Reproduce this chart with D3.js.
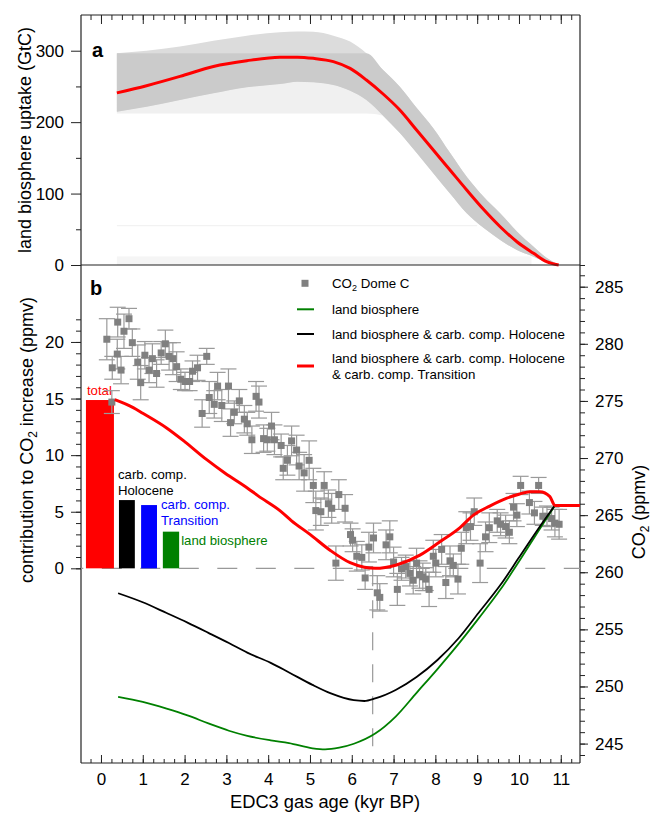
<!DOCTYPE html>
<html><head><meta charset="utf-8">
<script src="https://cdn.jsdelivr.net/npm/d3@7"></script>
<style>
body{margin:0;background:#fff}
svg{display:block}
text{font-family:"Liberation Sans",Arial,Helvetica,sans-serif;fill:#000}
</style>
</head><body>
<svg id="c" width="652" height="815"></svg>
<script>
// ---------- DATA ----------
// Panel a: land biosphere uptake (GtC)
const topAge   = [0.38, 1.09, 1.89, 2.69, 3.49, 4.28, 4.7, 5.08, 5.56, 5.96, 6.35, 6.75, 7.15, 7.55, 7.95, 8.35, 8.75, 9.15, 9.55, 9.95, 10.35, 10.66, 10.95];
const topMedian= [241, 251, 264, 278, 286, 290.8, 291, 289.3, 284.7, 275.2, 259, 239.4, 217, 189, 161, 133, 105, 78, 53.6, 32.6, 16.4, 4.7, 0];
const topUpper = [296.5, 300, 305.8, 313.8, 321, 325.7, 327, 326.5, 321, 312.8, 296.5, 273, 249.7, 220, 191.4, 157, 123.7, 96, 72.4, 47, 25.6, 10, 0];
const topLower = [214.7, 221.7, 231, 240.4, 248.8, 253.4, 256.7, 256, 252, 244, 231, 209, 184.7, 157, 128.4, 100, 72.4, 52, 35, 21, 11.6, 4, 0];
const topInnerCap = 296.5;   // inner (darker) band upper limit
const topFaintFloor = 212;   // faint shading floor
const topMajor = [0, 100, 200, 300];
const topMinor = [50, 150, 250];

// Panel b: model contributions (ppmv, left axis)
const redAge = [0.33, 0.77, 1.0, 1.57, 2.0, 2.53, 2.97, 3.5, 3.76, 4.28, 4.56, 5.0, 5.48, 5.96, 6.3, 6.56, 7.07, 7.63, 8.11, 8.59, 8.91, 9.3, 9.71, 10.0, 10.26, 10.5, 10.74, 10.86, 11.46];
const redVal = [14.9, 14.2, 13.7, 12.4, 11.2, 9.6, 8.4, 7.1, 6.4, 5.1, 4.2, 3.0, 1.6, 0.5, 0.1, 0.0, 0.3, 1.17, 2.35, 3.6, 4.7, 5.5, 6.2, 6.55, 6.77, 6.77, 6.33, 5.56, 5.56];
const blackAge = [0.41, 1.0, 1.57, 2.07, 2.57, 3.06, 3.5, 4.06, 4.5, 5.06, 5.5, 6.05, 6.3, 6.56, 7.05, 7.55, 8.05, 8.55, 9.04, 9.55, 10.0, 10.5, 10.86];
const blackVal = [-2.2, -3.0, -3.95, -4.8, -5.7, -6.6, -7.45, -8.35, -9.2, -10.3, -11.05, -11.65, -11.72, -11.5, -10.75, -9.6, -8.1, -6.2, -3.9, -1.5, 0.95, 3.7, 5.56];
const greenAge = [0.41, 1.0, 1.57, 2.07, 2.57, 3.06, 3.5, 4.06, 4.5, 5.06, 5.36, 5.7, 6.05, 6.56, 7.05, 7.55, 8.05, 8.55, 9.04, 9.55, 10.0, 10.5, 10.86];
const greenVal = [-11.35, -11.8, -12.4, -13.0, -13.7, -14.35, -14.8, -15.2, -15.45, -15.9, -16.0, -15.85, -15.5, -14.6, -13.1, -11.0, -8.9, -6.7, -4.4, -1.9, 0.6, 3.5, 5.56];

// Bars: contributions at 0 kyr
const barNames = ["total", "carb. comp. Holocene", "carb. comp. Transition", "land biosphere"];
const barValues = [14.87, 6.03, 5.59, 3.24];
const barFrom = [-0.36, 0.43, 0.96, 1.48];   // kyr
const barTo   = [0.31, 0.81, 1.34, 1.87];    // kyr

// CO2 Dome C (ppmv, right axis)
const co2Age = [0.14,0.26,0.27,0.39,0.40,0.48,0.55,0.67,0.75,0.88,0.95,1.05,1.15,1.23,1.33,1.44,1.54,1.63,1.72,1.81,1.91,2.01,2.12,2.19,2.31,2.42,2.53,2.59,2.71,2.79,2.89,3.05,3.10,3.19,3.31,3.43,3.50,3.61,3.71,3.78,3.89,3.98,4.08,4.15,4.31,4.36,4.46,4.56,4.68,4.74,4.86,4.98,5.08,5.14,5.26,5.34,5.44,5.52,5.62,5.69,5.84,5.97,6.02,6.12,6.24,6.32,6.41,6.52,6.61,6.67,6.82,6.91,7.00,7.09,7.19,7.29,7.39,7.47,7.55,7.62,7.70,7.77,7.85,7.95,8.01,8.15,8.25,8.35,8.43,8.54,8.62,8.74,8.84,8.93,9.07,9.20,9.29,9.48,9.56,9.68,9.77,9.87,9.95,10.04,10.25,10.37,10.47,10.57,10.67,10.78,10.86,10.96];
const co2Value = [280.4,274.9,277.9,279.1,281.9,277.7,281.1,282.2,280.1,278.4,276.6,279.0,277.7,278.7,277.4,279.2,280.0,278.9,278.7,278.0,276.9,276.7,276.7,277.6,277.9,273.9,278.9,275.3,274.7,276.3,274.6,276.3,273.1,274.0,275.0,273.4,273.0,271.6,275.4,274.9,271.7,271.6,272.8,271.6,271.1,269.1,269.8,271.5,270.7,269.3,268.7,269.8,267.6,265.4,265.3,267.6,266.0,265.6,260.8,266.8,265.6,263.3,262.8,261.4,261.3,259.5,262.2,263.0,258.2,257.8,262.4,263.1,260.9,258.5,260.3,260.5,259.9,259.3,260.8,259.8,259.6,259.4,258.5,261.4,260.8,262.0,259.1,261.0,260.6,259.4,262.1,263.9,264.0,265.3,260.8,263.1,263.9,264.5,264.2,264.0,263.5,265.7,265.0,267.6,266.1,265.2,267.6,264.9,264.9,264.7,264.3,264.2];
const co2Err = [1.8,1.0,1.0,1.3,1.3,1.2,1.5,0.9,1.2,1.5,1.5,1.2,1.1,1.3,1.2,1.0,1.2,1.2,1.4,1.3,0.9,0.8,0.8,0.9,1.1,1.2,0.7,1.4,1.2,1.2,1.4,1.5,1.2,1.0,1.0,1.2,1.0,1.2,1.3,1.4,1.2,1.0,1.2,1.3,1.0,1.0,1.3,1.3,1.3,1.2,1.6,1.7,1.5,1.7,1.2,1.2,1.2,1.3,1.5,1.3,1.2,1.0,1.0,1.3,1.1,1.0,1.3,1.3,1.5,1.2,1.3,1.4,1.3,1.4,1.0,1.0,1.1,1.2,1.3,1.2,1.2,1.0,1.5,1.4,1.2,1.3,1.4,1.3,1.0,1.3,1.4,1.4,1.2,1.2,1.7,1.3,1.3,1.0,1.0,1.0,1.0,1.2,1.0,0.8,1.0,1.0,0.7,0.8,0.9,1.0,1.2,1.3];

const xTicks = d3.range(0, 12);
const xMinor = d3.range(-1, 46).map(i => i / 4);
const leftMajor = [0, 5, 10, 15, 20];
const leftMinor = d3.range(0, 23);
const rightMajor = d3.range(245, 290, 5);
const rightMinor = d3.range(244, 287);
const minimumAge = 6.5;

const legendItems = [
  {type: "square", lines: ["CO|2| Dome C"]},
  {type: "green", lines: ["land biosphere"]},
  {type: "black", lines: ["land biosphere & carb. comp. Holocene"]},
  {type: "red", lines: ["land biosphere & carb. comp. Holocene", "& carb. comp. Transition"]}
];

// ---------- STYLE ----------
const C = {red: "#ff0000", black: "#000000", blue: "#0000ff", green: "#008000",
           gray: "#808080", err: "#9a9a9a", light: "#dcdcdc", dark: "#cbcbcb", faint: "#f0f0f0", axis: "#222"};
const barColors = [C.red, C.black, C.blue, C.green];

// ---------- SCALES ----------
const L = 81, R = 580, T = 15, MID = 265, B = 763;
const x = d3.scaleLinear().domain([-0.478, 11.46]).range([L, R]);
const yTop = d3.scaleLinear().domain([0, 350]).range([MID, T]);
const yL = d3.scaleLinear().domain([-17.2, 26.8]).range([B, MID]);
const yR = d3.scaleLinear().domain([243.3, 286.9]).range([B, MID]);

const svg = d3.select("#c");

// ---------- PANEL A ----------
const topData = topAge.map((a, i) => ({a, m: topMedian[i], u: topUpper[i], l: topLower[i]}));
const ga = svg.append("g");
ga.append("path").datum(topData)
  .attr("d", d3.area().x(d => x(d.a)).y0(d => yTop(Math.min(topFaintFloor, d.l))).y1(d => yTop(d.l)).curve(d3.curveMonotoneX))
  .attr("fill", C.faint);
ga.append("rect").attr("x", x(0.38)).attr("width", x(10.3) - x(0.38))
  .attr("y", yTop(12)).attr("height", yTop(0) - yTop(12)).attr("fill", "#f5f5f5");
ga.append("line").attr("x1", x(0.38)).attr("x2", x(9.0)).attr("y1", yTop(55)).attr("y2", yTop(55))
  .attr("stroke", "#efefef").attr("stroke-width", 1);
ga.append("path").datum(topData)
  .attr("d", d3.area().x(d => x(d.a)).y0(d => yTop(d.l)).y1(d => yTop(d.u)).curve(d3.curveMonotoneX))
  .attr("fill", C.light);
ga.append("path").datum(topData)
  .attr("d", d3.area().x(d => x(d.a)).y0(d => yTop(d.l)).y1(d => yTop(Math.min(d.u, topInnerCap))).curve(d3.curveMonotoneX))
  .attr("fill", C.dark);
ga.append("path").datum(topData)
  .attr("d", d3.line().x(d => x(d.a)).y(d => yTop(d.m)).curve(d3.curveMonotoneX))
  .attr("fill", "none").attr("stroke", C.red).attr("stroke-width", 3);

// ---------- AXES ----------
function styleAxis(g) {
  g.select(".domain").remove();
  g.selectAll(".tick line").attr("stroke", C.axis).attr("stroke-width", 1);
  g.selectAll(".tick text").attr("font-size", 17).attr("fill", "#000")
    .attr("font-family", '"Liberation Sans",Arial,sans-serif');
}
svg.append("g").attr("transform", `translate(${L},0)`)
  .call(d3.axisLeft(yTop).tickValues(topMajor).tickSize(10).tickPadding(7)).call(styleAxis);
svg.append("g").attr("transform", `translate(${L},0)`)
  .call(d3.axisLeft(yTop).tickValues(topMinor).tickSize(5).tickFormat("")).call(styleAxis);
svg.append("g").attr("transform", `translate(${R},0)`)
  .call(d3.axisRight(yTop).tickValues([0]).tickSize(5).tickFormat("")).call(styleAxis);
svg.append("g").attr("transform", `translate(${L},0)`)
  .call(d3.axisLeft(yL).tickValues(leftMajor).tickSize(10).tickPadding(7)).call(styleAxis);
svg.append("g").attr("transform", `translate(${L},0)`)
  .call(d3.axisLeft(yL).tickValues(leftMinor).tickSize(5).tickFormat("")).call(styleAxis);
svg.append("g").attr("transform", `translate(${R},0)`)
  .call(d3.axisRight(yR).tickValues(rightMajor).tickSize(8).tickPadding(7)).call(styleAxis);
svg.append("g").attr("transform", `translate(${R},0)`)
  .call(d3.axisRight(yR).tickValues(rightMinor).tickSize(5).tickFormat("")).call(styleAxis);
svg.append("g").attr("transform", `translate(0,${B})`)
  .call(d3.axisBottom(x).tickValues(xTicks).tickSizeInner(-8).tickSizeOuter(0).tickPadding(10)).call(styleAxis);
svg.append("g").attr("transform", `translate(0,${B})`)
  .call(d3.axisBottom(x).tickValues(xMinor).tickSizeInner(-4).tickSizeOuter(0).tickFormat("")).call(styleAxis);
svg.append("g").attr("transform", `translate(0,${T})`)
  .call(d3.axisBottom(x).tickValues(xTicks).tickSizeInner(9).tickSizeOuter(0).tickFormat("")).call(styleAxis);
svg.append("g").attr("transform", `translate(0,${T})`)
  .call(d3.axisBottom(x).tickValues(xMinor).tickSizeInner(5).tickSizeOuter(0).tickFormat("")).call(styleAxis);

const frame = svg.append("g").attr("stroke", C.axis).attr("stroke-width", 1.2);
frame.append("line").attr("x1", L).attr("x2", L).attr("y1", T).attr("y2", B);
frame.append("line").attr("x1", R).attr("x2", R).attr("y1", T).attr("y2", B);
frame.append("line").attr("x1", L).attr("x2", R).attr("y1", T).attr("y2", T);
frame.append("line").attr("x1", L).attr("x2", R).attr("y1", MID).attr("y2", MID);
frame.append("line").attr("x1", L).attr("x2", R).attr("y1", B).attr("y2", B);

// ---------- PANEL B ----------
const gb = svg.append("g");
gb.append("line").attr("x1", L).attr("x2", R).attr("y1", yL(0)).attr("y2", yL(0))
  .attr("stroke", "#999").attr("stroke-width", 1.2).attr("stroke-dasharray", "20,18.5").attr("stroke-dashoffset", 17.7);
gb.append("line").attr("x1", x(minimumAge)).attr("x2", x(minimumAge)).attr("y1", yL(0)).attr("y2", B)
  .attr("stroke", "#999").attr("stroke-width", 1.2).attr("stroke-dasharray", "18,14");

barValues.forEach((v, i) => {
  gb.append("rect").attr("x", x(barFrom[i])).attr("width", x(barTo[i]) - x(barFrom[i]))
    .attr("y", yL(v)).attr("height", yL(0) - yL(v)).attr("fill", barColors[i]);
});
const lbl = gb.append("g").attr("font-size", 13.2);
lbl.append("text").attr("x", x(barFrom[0]) + 1).attr("y", yL(barValues[0]) - 5).style("fill", C.red).text(barNames[0]);
const hol = lbl.append("text").attr("x", x(barFrom[1]) - 1).attr("y", yL(barValues[1]) - 21).style("fill", C.black);
hol.append("tspan").text("carb. comp.");
hol.append("tspan").attr("x", x(barFrom[1]) - 1).attr("dy", 16).text("Holocene");
const tra = lbl.append("text").attr("x", x(barTo[2]) + 4).attr("y", yL(barValues[2]) + 4).style("fill", C.blue);
tra.append("tspan").text("carb. comp.");
tra.append("tspan").attr("x", x(barTo[2]) + 4).attr("dy", 16).text("Transition");
lbl.append("text").attr("x", x(barTo[3]) + 2).attr("y", yL(barValues[3]) + 13).style("fill", C.green).text(barNames[3]);

const co2 = co2Age.map((a, i) => ({a, v: co2Value[i], e: co2Err[i]}));
const eb = gb.append("g").attr("stroke", C.err).attr("stroke-width", 1.2);
co2.forEach(d => {
  const cx = x(d.a), y1 = yR(d.v + d.e), y0 = yR(d.v - d.e);
  eb.append("line").attr("x1", cx).attr("x2", cx).attr("y1", y1).attr("y2", y0);
  eb.append("line").attr("x1", cx - 8).attr("x2", cx + 8).attr("y1", y1).attr("y2", y1);
  eb.append("line").attr("x1", cx - 8).attr("x2", cx + 8).attr("y1", y0).attr("y2", y0);
});
gb.append("g").selectAll("rect").data(co2).join("rect")
  .attr("x", d => x(d.a) - 3.5).attr("y", d => yR(d.v) - 3.5)
  .attr("width", 7).attr("height", 7).attr("fill", C.gray);

const lineGen = d3.line().x(d => x(d[0])).y(d => yL(d[1])).curve(d3.curveMonotoneX);
gb.append("path").datum(greenAge.map((a, i) => [a, greenVal[i]])).attr("d", lineGen)
  .attr("fill", "none").attr("stroke", C.green).attr("stroke-width", 1.8);
gb.append("path").datum(blackAge.map((a, i) => [a, blackVal[i]])).attr("d", lineGen)
  .attr("fill", "none").attr("stroke", C.black).attr("stroke-width", 1.8);
gb.append("path").datum(redAge.map((a, i) => [a, redVal[i]])).attr("d", lineGen)
  .attr("fill", "none").attr("stroke", C.red).attr("stroke-width", 3);

// legend
const lg = svg.append("g").attr("font-size", 13.3);
const legY = [283.3, 309.3, 334, 366];
legendItems.forEach((it, i) => {
  const cy = legY[i];
  if (it.type === "square") {
    lg.append("rect").attr("x", 305 - 3.5).attr("y", cy - 3.5).attr("width", 7).attr("height", 7).attr("fill", C.gray);
  } else {
    lg.append("line").attr("x1", 297).attr("x2", 314).attr("y1", cy).attr("y2", cy)
      .attr("stroke", C[it.type]).attr("stroke-width", it.type === "red" ? 3 : 2);
  }
  const n = it.lines.length;
  it.lines.forEach((ln, j) => {
    const t = lg.append("text").attr("x", 332).attr("y", cy + 4.5 + (j - (n - 1) / 2) * 16);
    const parts = ln.split("|");
    if (parts.length === 3) {
      t.append("tspan").text(parts[0]);
      t.append("tspan").attr("font-size", 9).attr("dy", 3).text(parts[1]);
      t.append("tspan").attr("dy", -3).text(parts[2]);
    } else t.text(ln);
  });
});

svg.append("text").attr("x", 92).attr("y", 57).attr("font-size", 20).attr("font-weight", "bold").text("a");
svg.append("text").attr("x", 90).attr("y", 295).attr("font-size", 20).attr("font-weight", "bold").text("b");

svg.append("text").attr("transform", "translate(31,140) rotate(-90)").attr("text-anchor", "middle")
  .attr("font-size", 18).text("land biosphere uptake (GtC)");
const t2 = svg.append("text").attr("transform", "translate(33,440) rotate(-90)").attr("text-anchor", "middle").attr("font-size", 18);
t2.append("tspan").text("contribution to CO");
t2.append("tspan").attr("font-size", 12).attr("dy", 4).text("2");
t2.append("tspan").attr("dy", -4).text(" increase (ppmv)");
const t3 = svg.append("text").attr("transform", "translate(645,512) rotate(-90)").attr("text-anchor", "middle").attr("font-size", 18);
t3.append("tspan").text("CO");
t3.append("tspan").attr("font-size", 12).attr("dy", 4).text("2");
t3.append("tspan").attr("dy", -4).text(" (ppmv)");
svg.append("text").attr("x", 325).attr("y", 808).attr("text-anchor", "middle").attr("font-size", 18.3).text("EDC3 gas age (kyr BP)");
</script>
</body></html>
